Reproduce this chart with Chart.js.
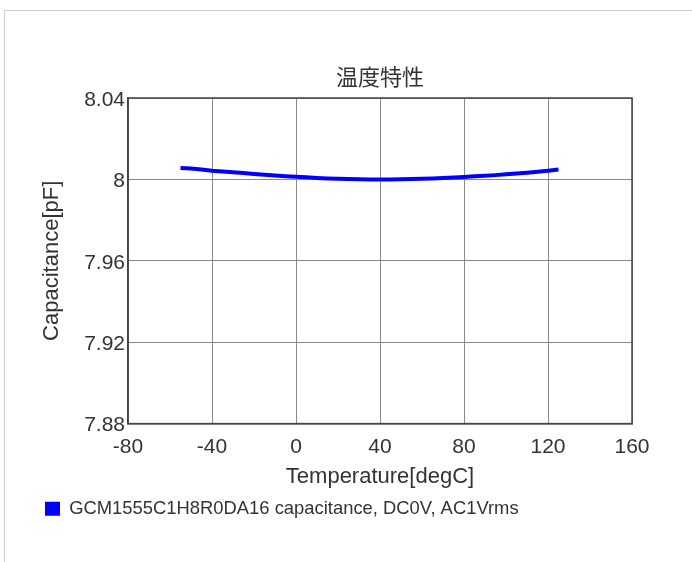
<!DOCTYPE html>
<html>
<head>
<meta charset="utf-8">
<script src="https://cdn.jsdelivr.net/npm/chart.js@4.4.1/dist/chart.umd.min.js"></script>
<style>
  html, body { margin: 0; padding: 0; background: #fff; }
  #wrap { position: relative; width: 692px; height: 562px; overflow: hidden; }
  #frame { position: absolute; left: 4px; top: 10px; width: 760px; height: 600px; border: 1px solid #d0d0d0; }
  #chart { position: absolute; left: 0; top: 0; }
</style>
</head>
<body>
<div id="wrap">
  <div id="frame"></div>
  <canvas id="chart" width="692" height="562"></canvas>
</div>
<script>
// ---------- data ----------
const chartTitle = "温度特性";
const seriesLabel = "GCM1555C1H8R0DA16 capacitance, DC0V, AC1Vrms";
const temperatures = [-55, -50, -45, -40, -35, -30, -25, -20, -15, -10, -5, 0, 5, 10, 15, 20, 25, 30, 35,
                      40, 45, 50, 55, 60, 65, 70, 75, 80, 85, 90, 95, 100, 105, 110, 115, 120, 125];
const capacitance = [8.0056, 8.0053, 8.0049, 8.0043, 8.0039, 8.0035, 8.0031, 8.0027, 8.0023, 8.0019,
                     8.0016, 8.0013, 8.0010, 8.0007, 8.0005, 8.0003, 8.0002, 8.0001, 8.0000,
                     8.0000, 8.0000, 8.0001, 8.0002, 8.0003, 8.0005, 8.0007, 8.0009, 8.0012,
                     8.0015, 8.0018, 8.0021, 8.0025, 8.0029, 8.0033, 8.0038, 8.0043, 8.0049];
const xTicks = [-80, -40, 0, 40, 80, 120, 160];
const yTicks = [7.88, 7.92, 7.96, 8, 8.04];
const yTickLabels = ["7.88", "7.92", "7.96", "8", "8.04"];

const textColor = "#333";
const fontFamily = "'Liberation Sans', 'Noto Sans CJK JP', sans-serif";

// dark frame around the plot area (top/right too)
const plotFrame = {
  id: "plotFrame",
  afterDraw(chart) {
    const { ctx, chartArea: a } = chart;
    ctx.save();
    ctx.strokeStyle = "#444";
    ctx.lineWidth = 1.5;
    ctx.strokeRect(a.left, a.top, a.right - a.left, a.bottom - a.top);
    ctx.restore();
  }
};

new Chart(document.getElementById("chart"), {
  type: "line",
  data: {
    datasets: [{
      label: seriesLabel,
      data: temperatures.map((t, i) => ({ x: t, y: capacitance[i] })),
      borderColor: "#0000ff",
      backgroundColor: "#0000ff",
      borderWidth: 4,
      pointRadius: 0,
      tension: 0
    }]
  },
  options: {
    responsive: false,
    animation: false,
    layout: { padding: { top: 66, right: 60, bottom: 34, left: 45 } },
    plugins: {
      title: {
        display: true,
        text: chartTitle,
        fullSize: false,
        color: textColor,
        font: { family: fontFamily, size: 22, weight: "normal" },
        padding: { top: 0, bottom: 5.6 }
      },
      legend: {
        position: "bottom",
        align: "start",
        labels: {
          boxWidth: 15,
          boxHeight: 14,
          padding: 0,
          color: textColor,
          font: { family: fontFamily, size: 18.4 },
          generateLabels: chart =>
            Chart.defaults.plugins.legend.labels.generateLabels(chart).map(l => ({ ...l, lineWidth: 0 }))
        }
      },
      tooltip: { enabled: false }
    },
    scales: {
      x: {
        type: "linear",
        min: xTicks[0],
        max: xTicks[xTicks.length - 1],
        afterBuildTicks: s => { s.ticks = xTicks.map(v => ({ value: v })); },
        afterFit: s => { s.height = 76; },
        ticks: {
          color: textColor,
          padding: 11,
          maxRotation: 0,
          font: { family: fontFamily, size: 21 }
        },
        grid: { color: "#8a8a8a", lineWidth: 1, drawTicks: false },
        border: { color: "#444", width: 1.5 },
        title: {
          display: true,
          text: "Temperature[degC]",
          color: textColor,
          font: { family: fontFamily, size: 22 },
          padding: { top: 0, bottom: 9 }
        }
      },
      y: {
        type: "linear",
        min: yTicks[0],
        max: yTicks[yTicks.length - 1],
        afterBuildTicks: s => { s.ticks = yTicks.map(v => ({ value: v })); },
        afterFit: s => { s.width = 83; },
        ticks: {
          color: textColor,
          padding: 3,
          labelOffset: 2,
          font: { family: fontFamily, size: 21 },
          callback: v => yTickLabels[yTicks.findIndex(t => Math.abs(t - v) < 1e-9)]
        },
        grid: { color: "#8a8a8a", lineWidth: 1, drawTicks: false },
        border: { color: "#444", width: 1.5 },
        title: {
          display: true,
          text: "Capacitance[pF]",
          color: textColor,
          font: { family: fontFamily, size: 22 },
          padding: { top: -6, bottom: 0 }
        }
      }
    }
  },
  plugins: [plotFrame]
});
</script>
</body>
</html>
